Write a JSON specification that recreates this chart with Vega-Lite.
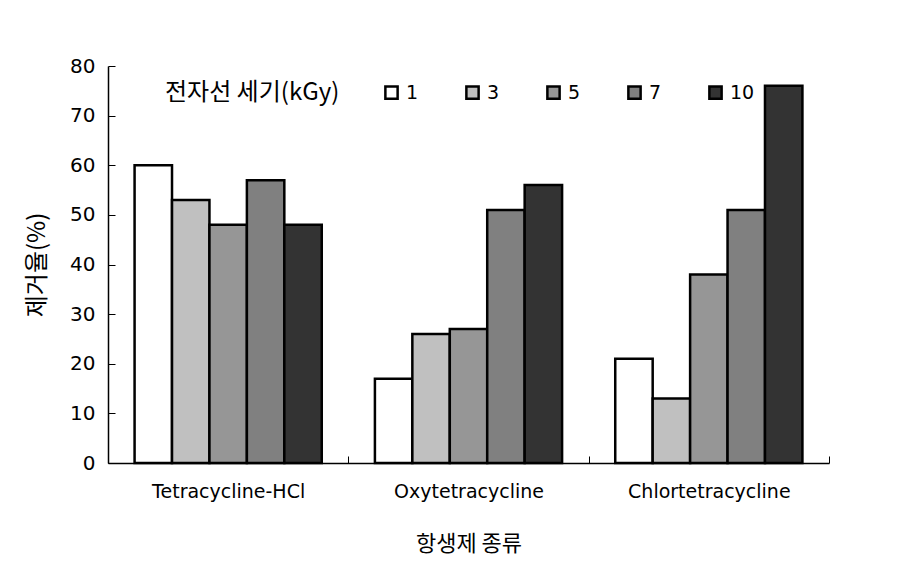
{
  "$schema": "https://vega.github.io/schema/vega-lite/v6.json",
  "width": 721,
  "height": 397,
  "autosize": {"type": "none"},
  "padding": {"left": 108, "top": 66, "right": 89, "bottom": 117},
  "background": "white",
  "data": {
    "values": [
      {"drug": "Tetracycline-HCl", "dose": "1", "rate": 60},
      {"drug": "Tetracycline-HCl", "dose": "3", "rate": 53},
      {"drug": "Tetracycline-HCl", "dose": "5", "rate": 48},
      {"drug": "Tetracycline-HCl", "dose": "7", "rate": 57},
      {"drug": "Tetracycline-HCl", "dose": "10", "rate": 48},
      {"drug": "Oxytetracycline", "dose": "1", "rate": 17},
      {"drug": "Oxytetracycline", "dose": "3", "rate": 26},
      {"drug": "Oxytetracycline", "dose": "5", "rate": 27},
      {"drug": "Oxytetracycline", "dose": "7", "rate": 51},
      {"drug": "Oxytetracycline", "dose": "10", "rate": 56},
      {"drug": "Chlortetracycline", "dose": "1", "rate": 21},
      {"drug": "Chlortetracycline", "dose": "3", "rate": 13},
      {"drug": "Chlortetracycline", "dose": "5", "rate": 38},
      {"drug": "Chlortetracycline", "dose": "7", "rate": 51},
      {"drug": "Chlortetracycline", "dose": "10", "rate": 76}
    ]
  },
  "mark": {"type": "bar", "stroke": "black", "strokeWidth": 2.5},
  "encoding": {
    "x": {
      "field": "drug",
      "type": "nominal",
      "sort": null,
      "scale": {"paddingInner": 0, "paddingOuter": 0},
      "axis": {
        "title": "항생제 종류",
        "titleFont": "Noto Sans CJK KR",
        "titleFontSize": 22,
        "titleFontWeight": "normal",
        "titleColor": "black",
        "titlePadding": 32,
        "labelFont": "DejaVu Sans",
        "labelFontSize": 19,
        "labelColor": "black",
        "labelPadding": 26,
        "labelAngle": 0,
        "tickBand": "extent",
        "tickSize": -7,
        "tickColor": "black",
        "domainColor": "black",
        "domainWidth": 1.5
      }
    },
    "xOffset": {
      "field": "dose",
      "type": "nominal",
      "sort": ["1", "3", "5", "7", "10"],
      "scale": {"paddingInner": 0, "paddingOuter": 0.71}
    },
    "y": {
      "field": "rate",
      "type": "quantitative",
      "scale": {"domain": [0, 80]},
      "axis": {
        "title": "제거율(%)",
        "titleFont": "Noto Sans CJK KR",
        "titleFontSize": 24,
        "titleFontWeight": "normal",
        "titleColor": "black",
        "titlePadding": 20,
        "values": [0, 10, 20, 30, 40, 50, 60, 70, 80],
        "labelFont": "DejaVu Sans",
        "labelFontSize": 20,
        "labelColor": "black",
        "labelPadding": 20,
        "tickSize": -7,
        "tickColor": "black",
        "domainColor": "black",
        "domainWidth": 1.5,
        "grid": false
      }
    },
    "fill": {
      "field": "dose",
      "type": "nominal",
      "sort": ["1", "3", "5", "7", "10"],
      "scale": {
        "domain": ["1", "3", "5", "7", "10"],
        "range": ["#ffffff", "#c0c0c0", "#969696", "#808080", "#333333"]
      },
      "legend": {
        "title": "전자선 세기(kGy)",
        "orient": "none",
        "legendX": 57,
        "legendY": 17,
        "direction": "horizontal",
        "titleOrient": "left",
        "titleFont": "Noto Sans CJK KR",
        "titleFontSize": 24,
        "titleFontWeight": "normal",
        "titleColor": "black",
        "titlePadding": 42,
        "titleBaseline": "middle",
        "columns": 5,
        "gridAlign": "all",
        "columnPadding": 30,
        "symbolType": "square",
        "symbolSize": 150,
        "symbolStrokeColor": "black",
        "symbolStrokeWidth": 2.5,
        "labelFont": "DejaVu Sans",
        "labelFontSize": 19,
        "labelColor": "black",
        "labelOffset": 5
      }
    }
  },
  "config": {
    "view": {"stroke": null}
  }
}
